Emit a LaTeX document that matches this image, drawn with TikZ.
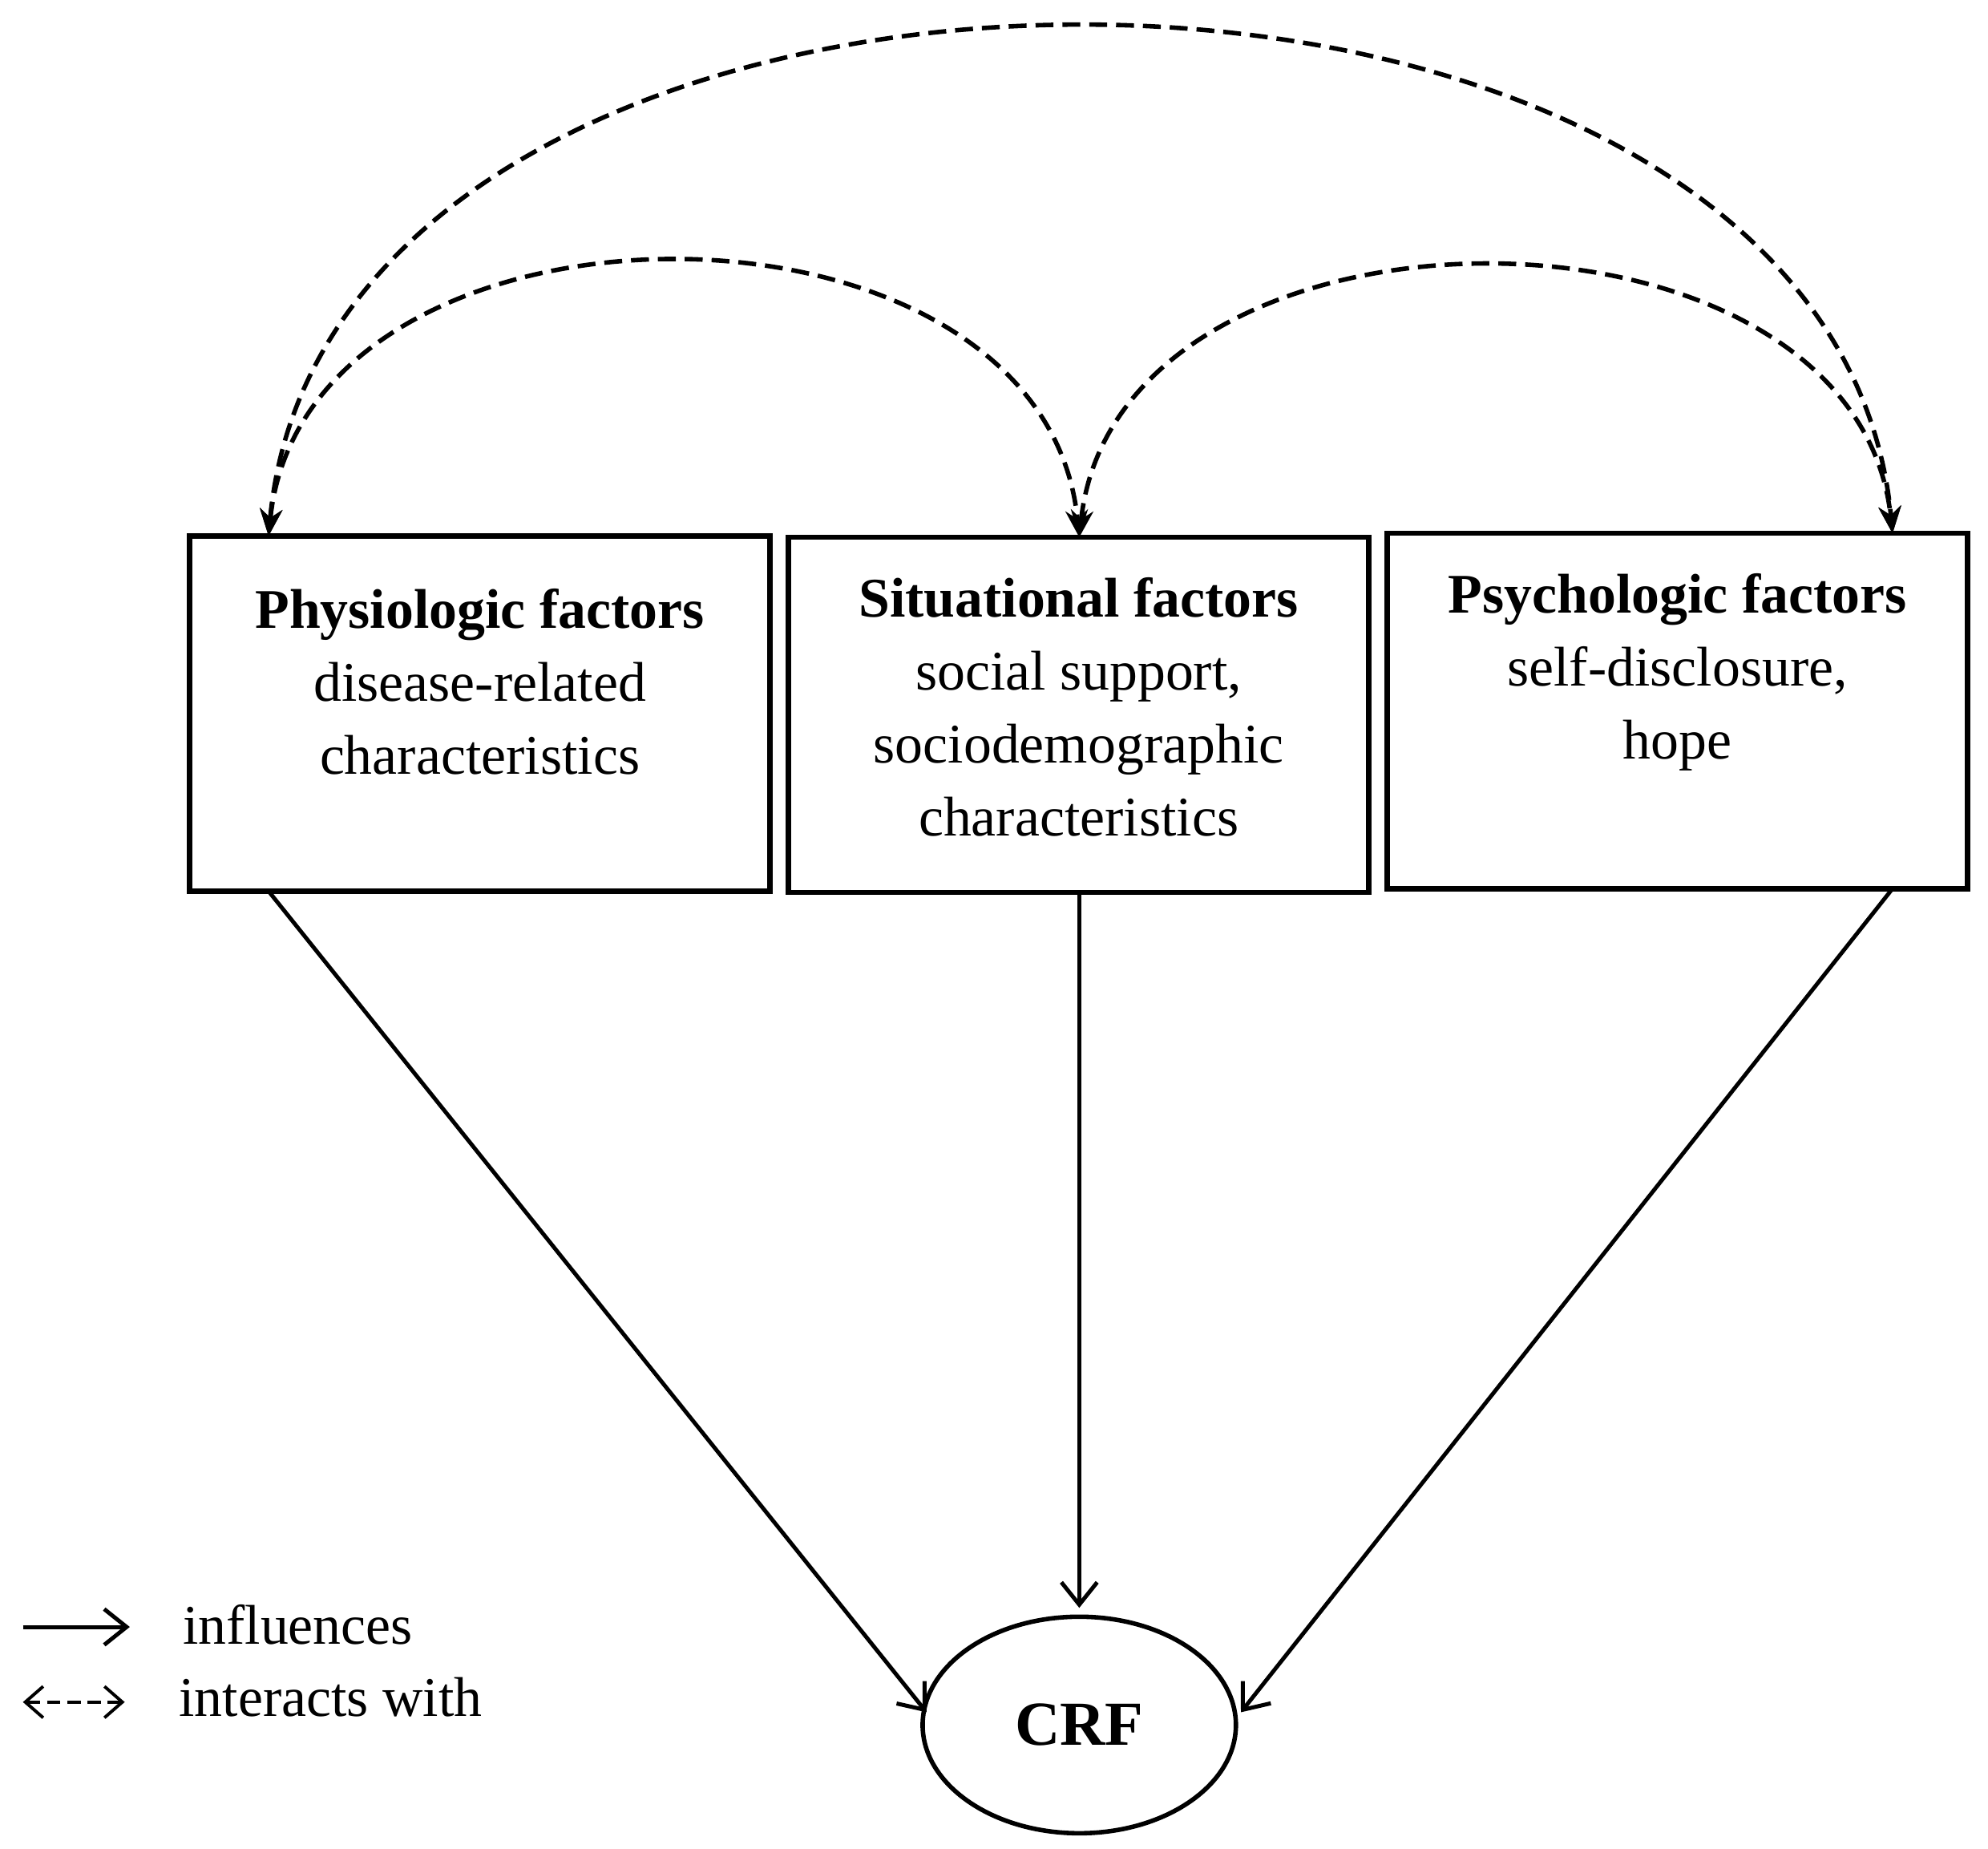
\documentclass[tikz,border=0pt]{standalone}
\usepackage{fontspec}
\setmainfont{Liberation Serif}
\usetikzlibrary{arrows.meta,shapes.geometric}
\begin{document}
\begin{tikzpicture}[x=0.01cm,y=-0.01cm,
  box/.style={draw,line width=1.2pt,minimum width=4.56cm,minimum height=2.79cm,inner sep=0pt},
  txt/.style={anchor=north,align=center,font=\fontsize{12.5}{16.3}\selectfont,inner sep=0pt},
  infl/.style={-{Straight Barb[length=5pt,width=8pt]},line width=0.9pt},
  inter/.style={{Stealth[length=6pt,width=5pt]}-{Stealth[length=6pt,width=5pt]},dashed,dash pattern=on 4pt off 2pt,line width=1pt}]
\useasboundingbox (0,0) rectangle (1562,1452);
\node[box] (phys) at (377,560.5) {};
\node[box] (sit) at (847.5,561.5) {};
\node[box] (psy) at (1318,558.5) {};
\node[txt] (t1) at (377,462) {\textbf{Physiologic factors}\\disease-related\\characteristics};
\node[txt] (t2) at (847.5,453) {\textbf{Situational factors}\\social support,\\sociodemographic\\characteristics};
\node[txt] (t3) at (1318,450) {\textbf{Psychologic factors}\\self-disclosure,\\hope};
\node[draw,line width=1pt,ellipse,minimum width=2.46cm,minimum height=1.7cm,font=\fontsize{14}{16}\selectfont\bfseries] (crf) at (848,1355) {CRF};
\coordinate (pb) at (211,700);
\coordinate (sb) at (848,701);
\coordinate (rb) at (1487,698);
\coordinate (pt) at (211,421);
\coordinate (st) at (848,422);
\coordinate (rt) at (1487,419);
\draw[infl] (pb) -- (728,1345) coordinate (e1);
\draw[infl] (sb) -- (848,1263);
\draw[infl] (rb) -- (975,1345);
\draw[inter] (pt) .. controls (240,135) and (820,135) .. (st);
\draw[inter] (st) .. controls (878,140) and (1457,140) .. (rt);
\draw[inter] (pt) .. controls (260,-110) and (1438,-110) .. (rt);
\coordinate (l1a) at (18,1278); \coordinate (l1b) at (102,1278);
\coordinate (l2a) at (18,1337); \coordinate (l2b) at (98,1337);
\draw[infl] (l1a) -- (l1b);
\draw[inter,{Straight Barb[length=4pt,width=7pt]}-{Straight Barb[length=4pt,width=7pt]},dash pattern=on 3pt off 1.5pt,line width=0.7pt] (l2a) -- (l2b);
\node[anchor=west,inner sep=0pt,font=\fontsize{12.5}{15}\selectfont] (lg1) at (143,1276) {influences};
\node[anchor=west,inner sep=0pt,font=\fontsize{12.5}{15}\selectfont] (lg2) at (140,1333) {interacts with};
\end{tikzpicture}
\end{document}
